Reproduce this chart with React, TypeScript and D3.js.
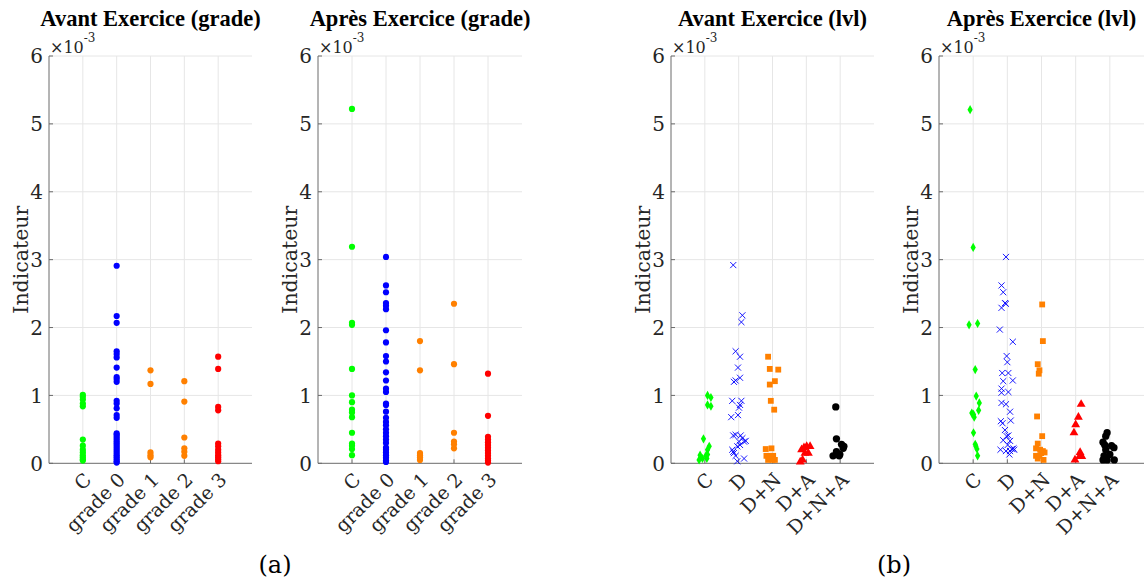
import * as React from "react";
import * as d3 from "d3";

// categories
const gradeCats = ["C", "grade 0", "grade 1", "grade 2", "grade 3"];
const lvlCats = ["C", "D", "D+N", "D+A", "D+N+A"];
const yTicks = [0, 1, 2, 3, 4, 5, 6];

// Avant Exercice (grade), values x1e-3
const avantGradeC = [1.01, 0.98, 0.94, 0.88, 0.84, 0.35, 0.26, 0.2, 0.16, 0.12, 0.09, 0.06, 0.04];
const avantGrade0 = [2.91, 2.17, 2.07, 1.65, 1.61, 1.56, 1.41, 1.27, 1.24, 1.2, 0.92, 0.88, 0.81, 0.71, 0.67,
  0.44, 0.42, 0.39, 0.36, 0.33, 0.3, 0.27, 0.24, 0.21, 0.18, 0.15, 0.12, 0.09, 0.06, 0.03, 0.01];
const avantGrade1 = [1.37, 1.17, 0.16, 0.12, 0.09];
const avantGrade2 = [1.21, 0.91, 0.38, 0.22, 0.17, 0.11];
const avantGrade3 = [1.57, 1.39, 0.83, 0.78, 0.29, 0.25, 0.2, 0.16, 0.12, 0.09, 0.06, 0.03];

// Après Exercice (grade)
const apresGradeC = [5.22, 3.19, 2.07, 2.04, 1.39, 1.0, 0.9, 0.79, 0.75, 0.68, 0.45, 0.29, 0.26, 0.21, 0.12];
const apresGrade0 = [3.04, 2.62, 2.52, 2.36, 2.32, 2.27, 1.96, 1.78, 1.58, 1.5, 1.34, 1.22, 1.1, 1.05, 0.88,
  0.86, 0.76, 0.67, 0.61, 0.56, 0.5, 0.45, 0.4, 0.35, 0.3, 0.23, 0.2, 0.16, 0.12, 0.08, 0.04, 0.02];
const apresGrade1 = [1.8, 1.37, 0.15, 0.12, 0.09, 0.05];
const apresGrade2 = [2.35, 1.46, 0.45, 0.32, 0.28, 0.22];
const apresGrade3 = [1.32, 0.7, 0.39, 0.35, 0.31, 0.27, 0.23, 0.19, 0.15, 0.11, 0.07, 0.04, 0.01];

// Avant Exercice (lvl): [jitter, value]
const avantLvlC = [[0.08, 1.0], [0.18, 0.97], [0.08, 0.86], [0.18, 0.84], [-0.04, 0.36], [0.13, 0.25], [0.08, 0.2],
  [-0.14, 0.12], [0.03, 0.11], [-0.07, 0.07], [-0.17, 0.05], [0.06, 0.07], [0.08, 0.13]];
const avantLvlD = [[-0.16, 2.92], [0.11, 2.18], [0.08, 2.08], [-0.09, 1.65], [0.04, 1.57], [-0.02, 1.41], [-0.14, 1.2],
  [-0.09, 1.22], [0.04, 1.26], [-0.19, 0.92], [0.08, 0.92], [0.04, 0.86], [0.01, 0.82], [-0.02, 0.71], [-0.22, 0.68],
  [-0.16, 0.41], [-0.09, 0.42], [0.06, 0.41], [0.11, 0.37], [0.01, 0.32], [0.16, 0.32], [0.04, 0.27], [-0.04, 0.25],
  [-0.19, 0.2], [-0.14, 0.15], [-0.09, 0.11], [-0.04, 0.03], [0.16, 0.07], [0.21, 0.33], [-0.16, 0.17]];
const avantLvlDN = [[-0.13, 1.57], [-0.08, 1.39], [0.17, 1.38], [0.07, 1.21], [-0.08, 1.16], [-0.05, 0.92], [0.05, 0.79],
  [-0.2, 0.21], [-0.03, 0.22], [-0.18, 0.11], [-0.06, 0.11], [0.02, 0.11], [-0.13, 0.05], [0.0, 0.05], [0.07, 0.05]];
const avantLvlDA = [[-0.14, 0.2], [-0.07, 0.23], [0.01, 0.25], [0.11, 0.25], [0.06, 0.15], [-0.04, 0.15], [-0.11, 0.05], [-0.18, 0.02]];
const avantLvlDNA = [[-0.13, 0.83], [-0.11, 0.36], [0.04, 0.28], [0.11, 0.25], [-0.11, 0.17], [-0.01, 0.13], [-0.21, 0.11],
  [-0.03, 0.11], [0.09, 0.22]];

// Après Exercice (lvl): [jitter, value]
const apresLvlC = [[-0.09, 5.21], [0.0, 3.18], [-0.12, 2.04], [0.13, 2.06], [0.06, 1.38], [0.09, 0.99], [0.18, 0.89],
  [0.16, 0.78], [-0.04, 0.74], [0.01, 0.72], [0.03, 0.68], [0.01, 0.45], [0.06, 0.28], [0.08, 0.25], [0.11, 0.21], [0.13, 0.11]];
const apresLvlD = [[-0.04, 3.04], [-0.17, 2.62], [-0.12, 2.52], [-0.07, 2.36], [-0.04, 2.35], [-0.17, 2.29], [-0.22, 1.97],
  [0.16, 1.79], [-0.02, 1.58], [0.0, 1.49], [-0.15, 1.33], [0.03, 1.33], [-0.12, 1.21], [0.16, 1.22], [-0.17, 1.1],
  [-0.17, 1.04], [0.03, 1.05], [-0.17, 0.89], [-0.04, 0.87], [0.08, 0.76], [-0.19, 0.62], [-0.14, 0.59], [0.1, 0.63],
  [-0.07, 0.49], [-0.02, 0.4], [0.03, 0.41], [-0.12, 0.34], [0.08, 0.33], [0.01, 0.27], [-0.2, 0.2], [-0.04, 0.18],
  [0.08, 0.18], [0.18, 0.22], [0.2, 0.2], [0.06, 0.13], [0.13, 0.21]];
const apresLvlDN = [[0.02, 2.34], [0.04, 1.8], [-0.11, 1.46], [-0.06, 1.37], [-0.08, 1.32], [-0.13, 0.69], [0.02, 0.4],
  [-0.11, 0.29], [-0.16, 0.22], [-0.04, 0.2], [0.04, 0.18], [0.09, 0.16], [-0.16, 0.11], [-0.06, 0.11], [0.06, 0.05],
  [-0.11, 0.07], [-0.01, 0.15]];
const apresLvlDA = [[0.16, 0.87], [0.08, 0.68], [0.0, 0.57], [-0.05, 0.45], [0.13, 0.16], [0.18, 0.1], [0.11, 0.1], [-0.02, 0.05]];
const apresLvlDNA = [[-0.08, 0.45], [-0.12, 0.4], [-0.2, 0.31], [-0.15, 0.27], [0.05, 0.26], [0.12, 0.23], [-0.12, 0.2],
  [0.0, 0.13], [-0.2, 0.05], [-0.08, 0.05], [0.13, 0.05], [-0.17, 0.11]];

const gradeColors = ["#00ff00", "#0000ff", "#ff8000", "#ff8000", "#ff0000"];
const lvlColors = ["#00ff00", "#0000ff", "#ff8000", "#ff0000", "#000000"];
const lvlShapes = [d3.symbolDiamond, d3.symbolTimes, d3.symbolSquare, d3.symbolTriangle, d3.symbolCircle];
const lvlSizes = [24, 26, 34, 34, 42];

const FONT = "DejaVu Serif";
const TOP = 56;
const BOTTOM = 463.3;

interface PanelProps {
  x0: number;
  x1: number;
  title: string;
  cats: string[];
  grade?: number[][];
  lvl?: number[][][];
}

function Panel({ x0, x1, title, cats, grade, lvl }: PanelProps) {
  const x = d3.scaleLinear().domain([0, 6]).range([x0, x1]);
  const y = d3.scaleLinear().domain([0, 6]).range([BOTTOM, TOP]);
  const cx = (x0 + x1) / 2;
  return (
    <g>
      {/* grid */}
      {yTicks.slice(1).map((t) => (
        <line key={"gy" + t} x1={x0} x2={x1} y1={y(t)} y2={y(t)} stroke="#e6e6e6" strokeWidth={1} />
      ))}
      {cats.map((c, i) => (
        <line key={"gx" + i} x1={x(i + 1)} x2={x(i + 1)} y1={TOP} y2={BOTTOM} stroke="#e6e6e6" strokeWidth={1} />
      ))}
      {/* axes */}
      <line x1={x0} x2={x0} y1={TOP} y2={BOTTOM} stroke="#6b6b6b" strokeWidth={1} />
      <line x1={x0} x2={x1} y1={BOTTOM} y2={BOTTOM} stroke="#6b6b6b" strokeWidth={1} />
      {yTicks.map((t) => (
        <g key={"yt" + t}>
          <line x1={x0} x2={x0 + 4} y1={y(t)} y2={y(t)} stroke="#6b6b6b" />
          <text x={x0 - 6} y={y(t)} dy="0.36em" textAnchor="end" fontFamily={FONT} fontSize={20} fill="#262626">
            {t}
          </text>
        </g>
      ))}
      {cats.map((c, i) => (
        <g key={"xt" + i}>
          <line x1={x(i + 1)} x2={x(i + 1)} y1={BOTTOM} y2={BOTTOM - 4} stroke="#6b6b6b" />
          <text
            transform={`translate(${x(i + 1) + 5},${BOTTOM + 13}) rotate(-45)`}
            dy="0.35em"
            textAnchor="end"
            fontFamily={FONT}
            fontSize={19}
            fill="#262626"
          >
            {c}
          </text>
        </g>
      ))}
      {/* exponent */}
      <text x={x0 + 1} y={52.5} fontFamily={FONT} fontSize={16} fill="#262626">
        ×10
        <tspan dy={-11} fontSize={12}>-3</tspan>
      </text>
      {/* y label */}
      <text
        transform={`translate(${x0 - 21},${(TOP + BOTTOM) / 2}) rotate(-90)`}
        textAnchor="middle"
        fontFamily={FONT}
        fontSize={20.5}
        fill="#262626"
      >
        Indicateur
      </text>
      {/* title */}
      <text x={cx} y={25.5} textAnchor="middle" fontFamily="Liberation Serif" fontWeight="bold" fontSize={22.5} fill="#000">
        {title}
      </text>
      {/* points */}
      {grade &&
        grade.map((vals, i) =>
          vals.map((v, j) => <circle key={`p${i}-${j}`} cx={x(i + 1)} cy={y(v)} r={3.1} fill={gradeColors[i]} />)
        )}
      {lvl &&
        lvl.map((pts, i) => {
          const path = d3.symbol().type(lvlShapes[i]).size(lvlSizes[i])() as string;
          const isStroke = i === 1;
          return pts.map(([j, v], k) => (
            <path
              key={`l${i}-${k}`}
              d={path}
              transform={`translate(${x(i + 1 + j)},${y(v)})`}
              fill={isStroke ? "none" : lvlColors[i]}
              stroke={isStroke ? lvlColors[i] : "none"}
              strokeWidth={isStroke ? 0.9 : 0}
            />
          ));
        })}
    </g>
  );
}

export default function App() {
  return (
    <svg width={1144} height={583} style={{ position: "absolute", left: 0, top: 0, background: "#fff" }}>
      <rect width={1144} height={583} fill="#fff" />
      <Panel
        x0={49}
        x1={252}
        title="Avant Exercice (grade)"
        cats={gradeCats}
        grade={[avantGradeC, avantGrade0, avantGrade1, avantGrade2, avantGrade3]}
      />
      <Panel
        x0={318}
        x1={522}
        title="Après Exercice (grade)"
        cats={gradeCats}
        grade={[apresGradeC, apresGrade0, apresGrade1, apresGrade2, apresGrade3]}
      />
      <Panel
        x0={671}
        x1={874}
        title="Avant Exercice (lvl)"
        cats={lvlCats}
        lvl={[avantLvlC, avantLvlD, avantLvlDN, avantLvlDA, avantLvlDNA]}
      />
      <Panel
        x0={939}
        x1={1144}
        title="Après Exercice (lvl)"
        cats={lvlCats}
        lvl={[apresLvlC, apresLvlD, apresLvlDN, apresLvlDA, apresLvlDNA]}
      />
      <text x={275} y={573} textAnchor="middle" fontFamily={FONT} fontSize={24} fill="#000">(a)</text>
      <text x={894} y={573} textAnchor="middle" fontFamily={FONT} fontSize={24} fill="#000">(b)</text>
    </svg>
  );
}
